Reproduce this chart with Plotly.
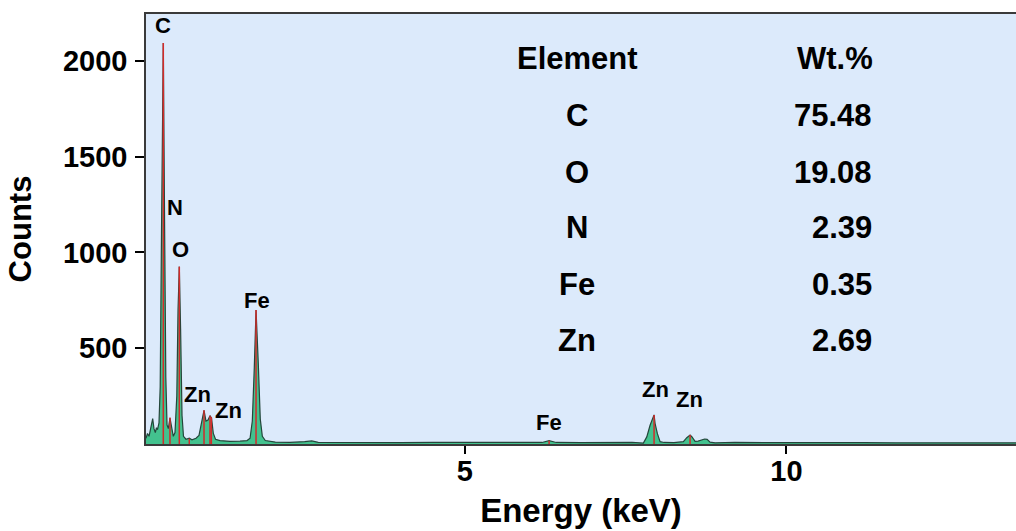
import plotly.graph_objects as go

# EDS spectrum: energy (keV) and counts along the measured curve
energy = [0.042, 0.065, 0.089, 0.120, 0.146, 0.166, 0.187, 0.205, 0.221, 0.244,
          0.263, 0.283, 0.311, 0.330, 0.350, 0.369, 0.389, 0.415, 0.435, 0.467,
          0.493, 0.521, 0.540, 0.560, 0.580, 0.602, 0.625, 0.664, 0.715, 0.757,
          0.820, 0.866, 0.905, 0.944, 0.975, 1.006, 1.037, 1.061, 1.089, 1.123,
          1.193, 1.348, 1.504, 1.613, 1.660, 1.695, 1.726, 1.753, 1.788, 1.819,
          1.851, 1.897, 2.053, 2.280, 2.510, 2.620, 2.720, 3.060, 3.500, 4.000,
          4.500, 5.000, 5.500, 6.000, 6.200, 6.310, 6.420, 6.800, 7.200, 7.600,
          7.776, 7.829, 7.880, 7.916, 7.942, 7.958, 7.994, 8.036, 8.098, 8.250,
          8.398, 8.451, 8.502, 8.529, 8.580, 8.627, 8.684, 8.728, 8.767, 8.813,
          8.891, 9.200, 9.700, 10.200, 10.700, 11.200, 11.700, 12.200, 12.600, 13.000,
          13.570]
counts = [30, 55, 40, 95, 133, 80, 60, 85, 75, 110,
          300, 1100, 2093, 1200, 350, 100, 80, 135, 95, 40,
          60, 250, 700, 926, 600, 150, 40, 25, 30, 22,
          30, 45, 110, 176, 120, 125, 148, 135, 55, 25,
          18, 14, 15, 18, 30, 120, 400, 700, 420, 130,
          40, 18, 10, 9, 12, 16, 9, 8, 10, 7,
          9, 8, 7, 8, 8, 17, 8, 7, 8, 8,
          5, 37, 98, 133, 152, 107, 54, 12, 8, 7,
          12, 33, 47, 38, 14, 15, 20, 26, 24, 10,
          6, 8, 7, 8, 6, 7, 6, 7, 8, 6,
          6]

# Fitted peak markers (energy, height)
peak_energy = [0.311, 0.415, 0.560, 0.715, 0.944, 1.037, 1.058, 1.753, 6.310, 7.942, 8.502]
peak_height = [2093, 138, 926, 28, 176, 148, 140, 700, 17, 152, 47]

# Peak labels
label_text = ["C", "N", "O", "Zn", "Zn", "Fe", "Fe", "Zn", "Zn"]
label_energy = [0.313, 0.500, 0.578, 0.840, 1.332, 1.767, 6.310, 7.966, 8.487]
label_counts = [2185, 1235, 1015, 260, 175, 748, 112, 287, 230]

# Quantification table
elements = ["C", "O", "N", "Fe", "Zn"]
wt_percent = ["75.48", "19.08", "2.39", "0.35", "2.69"]

FONT = "Arial, 'Liberation Sans', sans-serif"

W, H = 1016, 531
M_L, M_R, M_T, M_B = 146, 0, 14, 87

fig = go.Figure()

fig.add_trace(go.Scatter(
    x=energy, y=counts, mode="lines",
    line=dict(color="#24463a", width=1.2),
    fill="tozeroy", fillcolor="#43c28e",
    hoverinfo="x+y", showlegend=False,
))

# vertical red marker lines from baseline to each peak
mx, my = [], []
for e, h in zip(peak_energy, peak_height):
    mx += [e, e, None]
    my += [0, h, None]
fig.add_trace(go.Scatter(
    x=mx, y=my, mode="lines",
    line=dict(color="#d42a2a", width=1.5),
    hoverinfo="skip", showlegend=False,
))

annotations = []
for t, e, c in zip(label_text, label_energy, label_counts):
    annotations.append(dict(
        x=e, y=c, xref="x", yref="y", text=t, showarrow=False,
        font=dict(family=FONT, size=22, color="black", weight="bold"),
        xanchor="center", yanchor="middle",
    ))


# paper coordinates span the plotting area inside the margins
def px(x):
    return (x - M_L) / (W - M_L - M_R)


def py(y):
    return (H - M_B - y) / (H - M_B - M_T)


TABLE_FONT = dict(family=FONT, size=31, color="black", weight="bold")
annotations.append(dict(
    x=px(577), y=py(59), xref="paper", yref="paper", text="Element",
    showarrow=False, xanchor="center", yanchor="middle", font=TABLE_FONT,
))
annotations.append(dict(
    x=px(875), y=py(59), xref="paper", yref="paper", text="Wt.%",
    showarrow=False, xanchor="right", yanchor="middle", font=TABLE_FONT,
))
for i, (el, wt) in enumerate(zip(elements, wt_percent)):
    yrow = 116 + i * 56
    annotations.append(dict(
        x=px(577), y=py(yrow), xref="paper", yref="paper", text=el,
        showarrow=False, xanchor="center", yanchor="middle", font=TABLE_FONT,
    ))
    annotations.append(dict(
        x=px(874), y=py(yrow), xref="paper", yref="paper", text=wt,
        showarrow=False, xanchor="right", yanchor="middle", font=TABLE_FONT,
    ))

fig.update_layout(
    width=W, height=H,
    margin=dict(l=M_L, r=M_R, t=M_T, b=M_B),
    paper_bgcolor="white",
    plot_bgcolor="#dceafb",
    font=dict(family=FONT, color="black"),
    annotations=annotations,
    xaxis=dict(
        range=[0.042, 13.57], tickvals=[5, 10], ticktext=["5", "10"],
        ticks="outside", ticklen=8, tickwidth=2, tickcolor="black",
        ticklabelstandoff=-8,
        showline=True, linecolor="#3a3a3a", linewidth=1.5, mirror=True,
        showgrid=False, zeroline=False,
        tickfont=dict(family=FONT, size=29, color="black", weight="bold"),
        title=dict(text="Energy (keV)", standoff=13,
                   font=dict(family=FONT, size=33, color="black", weight="bold")),
    ),
    yaxis=dict(
        range=[0, 2245], tickvals=[500, 1000, 1500, 2000],
        ticks="outside", ticklen=9, tickwidth=2, tickcolor="black",
        ticklabelstandoff=2,
        showline=True, linecolor="#3a3a3a", linewidth=1.5, mirror=False,
        showgrid=False, zeroline=False,
        tickfont=dict(family=FONT, size=29, color="black", weight="bold"),
        title=dict(text="Counts", standoff=22,
                   font=dict(family=FONT, size=31, color="black", weight="bold")),
    ),
)

fig.write_html("out.html")
